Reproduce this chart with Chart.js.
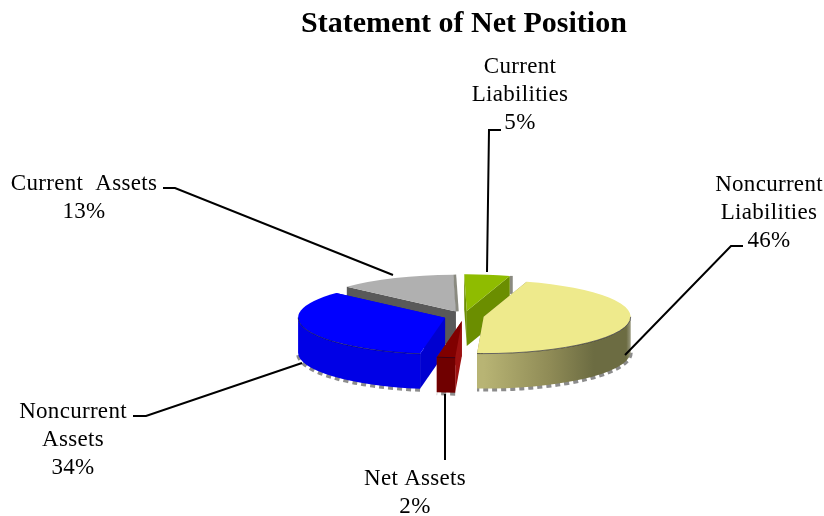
<!DOCTYPE html>
<html>
<head>
<meta charset="utf-8">
<title>Statement of Net Position</title>
<script src="https://cdn.jsdelivr.net/npm/chart.js@4"></script>
<style>
  html, body { margin: 0; padding: 0; background: #fff; }
  canvas { display: block; }
</style>
</head>
<body>
<canvas id="myChart" width="824" height="516"></canvas>
<script>
// data
var categories = ['Current Liabilities', 'Noncurrent Liabilities', 'Net Assets', 'Noncurrent Assets', 'Current Assets'];
var percents = [5, 46, 2, 34, 13];
var sliceColors = ['#8fbc00', '#eeea8c', '#800000', '#0000ff', '#b0b0b0'];
var cutColors = ['#6b8e00', '#8a8650', '#9c1010', '#0000d0', '#595959'];
var rimColors = ['#6b8e00', '#8a8650', '#700000', '#0000e6', '#595959'];

var squash = 0.25;
var depth = 35;
var explode = 20;

// label text lines, centre x, first baseline
var labelSpots = [
  { lines: ['Current', 'Liabilities'], x: 520, y: 73 },
  { lines: ['Noncurrent', 'Liabilities'], x: 769, y: 191 },
  { lines: ['Net Assets'], x: 415, y: 485 },
  { lines: ['Noncurrent', 'Assets'], x: 73, y: 418 },
  { lines: ['Current  Assets'], x: 84, y: 190 }
];
var leaders = [
  [[501, 130], [489, 130], [487, 272]],
  [[743, 246], [731, 246], [625, 355]],
  [[445, 394], [445, 460]],
  [[133, 416], [146, 416], [302, 363]],
  [[163, 188], [175, 188], [393, 275]]
];

function sliceGeom(arc) {
  var mid = (arc.startAngle + arc.endAngle) / 2;
  return {
    dx: Math.cos(mid) * explode,
    dy: Math.sin(mid) * explode,
    ax: arc.x + Math.cos(mid) * explode,
    ay: arc.y + Math.sin(mid) * explode * squash,
    r: arc.outerRadius
  };
}

function edgePoint(g, angle) {
  return { x: g.ax + Math.cos(angle) * g.r, y: g.ay + Math.sin(angle) * g.r * squash };
}

function drawCut(ctx, g, angle, color) {
  var e = edgePoint(g, angle);
  ctx.fillStyle = color;
  ctx.beginPath();
  ctx.moveTo(g.ax, g.ay);
  ctx.lineTo(e.x, e.y);
  ctx.lineTo(e.x, e.y + depth);
  ctx.lineTo(g.ax, g.ay + depth);
  ctx.closePath();
  ctx.fill();
}

function rimFill(ctx, g, i) {
  if (i === 1) {
    var grad = ctx.createLinearGradient(g.ax, 0, g.ax + g.r, 0);
    grad.addColorStop(0, '#b8b474');
    grad.addColorStop(0.45, '#8f8b56');
    grad.addColorStop(0.75, '#6c6c42');
    grad.addColorStop(0.97, '#6c6c42');
    grad.addColorStop(1, '#9a9a80');
    return grad;
  }
  return rimColors[i];
}

function drawRim(ctx, g, i, lo, hi) {
  // bumpy shadow under the rim
  ctx.save();
  ctx.strokeStyle = '#8c8c8c';
  ctx.lineWidth = 4;
  ctx.setLineDash([5, 4]);
  ctx.beginPath();
  ctx.ellipse(g.ax, g.ay + depth + 1, g.r, g.r * squash, 0, lo, hi);
  ctx.stroke();
  ctx.restore();

  ctx.fillStyle = rimFill(ctx, g, i);
  ctx.beginPath();
  ctx.ellipse(g.ax, g.ay, g.r, g.r * squash, 0, lo, hi);
  ctx.ellipse(g.ax, g.ay + depth, g.r, g.r * squash, 0, hi, lo, true);
  ctx.closePath();
  ctx.fill();
}

// thin shaded strips on the back slices
function drawStrip(ctx, x1, y1, x2, y2) {
  ctx.strokeStyle = '#8a8a80';
  ctx.lineWidth = 3;
  ctx.beginPath();
  ctx.moveTo(x1, y1);
  ctx.lineTo(x2, y2);
  ctx.stroke();
}

var pie3d = {
  id: 'pie3d',
  beforeDatasetsDraw: function(chart) {
    var ctx = chart.ctx;
    var arcs = chart.getDatasetMeta(0).data.map(function(arc, i) {
      return { arc: arc, i: i, g: sliceGeom(arc) };
    });
    arcs.sort(function(a, b) { return a.g.ay - b.g.ay; });

    arcs.forEach(function(s) {
      var arc = s.arc, g = s.g, i = s.i;
      if (i === 4) {
        var top = edgePoint(g, arc.endAngle);
        drawStrip(ctx, top.x + 1.5, top.y, g.ax + 1.5, g.ay);
      }
      if (i === 0) {
        var corner = edgePoint(g, arc.endAngle);
        drawStrip(ctx, corner.x + 1.5, corner.y, corner.x + 1.5, corner.y + 18);
      }
      drawCut(ctx, g, arc.startAngle, cutColors[i]);
      drawCut(ctx, g, arc.endAngle, cutColors[i]);
      var lo = Math.max(arc.startAngle, 0);
      var hi = Math.min(arc.endAngle, Math.PI);
      if (hi > lo) drawRim(ctx, g, i, lo, hi);

      ctx.save();
      ctx.translate(arc.x, arc.y);
      ctx.scale(1, squash);
      ctx.translate(g.dx - arc.x, g.dy - arc.y);
      arc.draw(ctx);
      ctx.restore();

      // dark edge between the top and the rim
      if (hi > lo) {
        ctx.strokeStyle = 'rgba(0,0,40,0.55)';
        ctx.lineWidth = 1;
        ctx.beginPath();
        ctx.ellipse(g.ax, g.ay, g.r, g.r * squash, 0, lo, hi);
        ctx.stroke();
      }
    });
    return false;
  },
  afterDraw: function(chart) {
    var ctx = chart.ctx;
    ctx.save();
    ctx.strokeStyle = '#000';
    ctx.lineWidth = 2;
    leaders.forEach(function(pts) {
      ctx.beginPath();
      pts.forEach(function(p, k) {
        if (k === 0) ctx.moveTo(p[0], p[1]); else ctx.lineTo(p[0], p[1]);
      });
      ctx.stroke();
    });
    ctx.fillStyle = '#000';
    ctx.font = '23px "Liberation Serif"';
    ctx.letterSpacing = '0.3px';
    ctx.textAlign = 'center';
    ctx.textBaseline = 'alphabetic';
    labelSpots.forEach(function(spot, i) {
      var lines = spot.lines.concat([percents[i] + '%']);
      lines.forEach(function(line, k) {
        ctx.fillText(line, spot.x, spot.y + k * 28);
      });
    });
    ctx.restore();
  }
};

var ctx = document.getElementById('myChart').getContext('2d');
var myChart = new Chart(ctx, {
  type: 'pie',
  data: {
    labels: categories,
    datasets: [{
      data: percents,
      backgroundColor: sliceColors,
      borderWidth: 0,
      radius: 147
    }]
  },
  options: {
    responsive: false,
    animation: false,
    rotation: -1,
    layout: { padding: { left: 104 } },
    plugins: {
      legend: { display: false },
      tooltip: { enabled: false },
      title: {
        display: true,
        text: 'Statement of Net Position',
        color: '#000',
        font: { family: '"Liberation Serif"', size: 30, weight: 'bold' },
        padding: { top: 6, bottom: 74 }
      }
    }
  },
  plugins: [pie3d]
});
</script>
</body>
</html>
